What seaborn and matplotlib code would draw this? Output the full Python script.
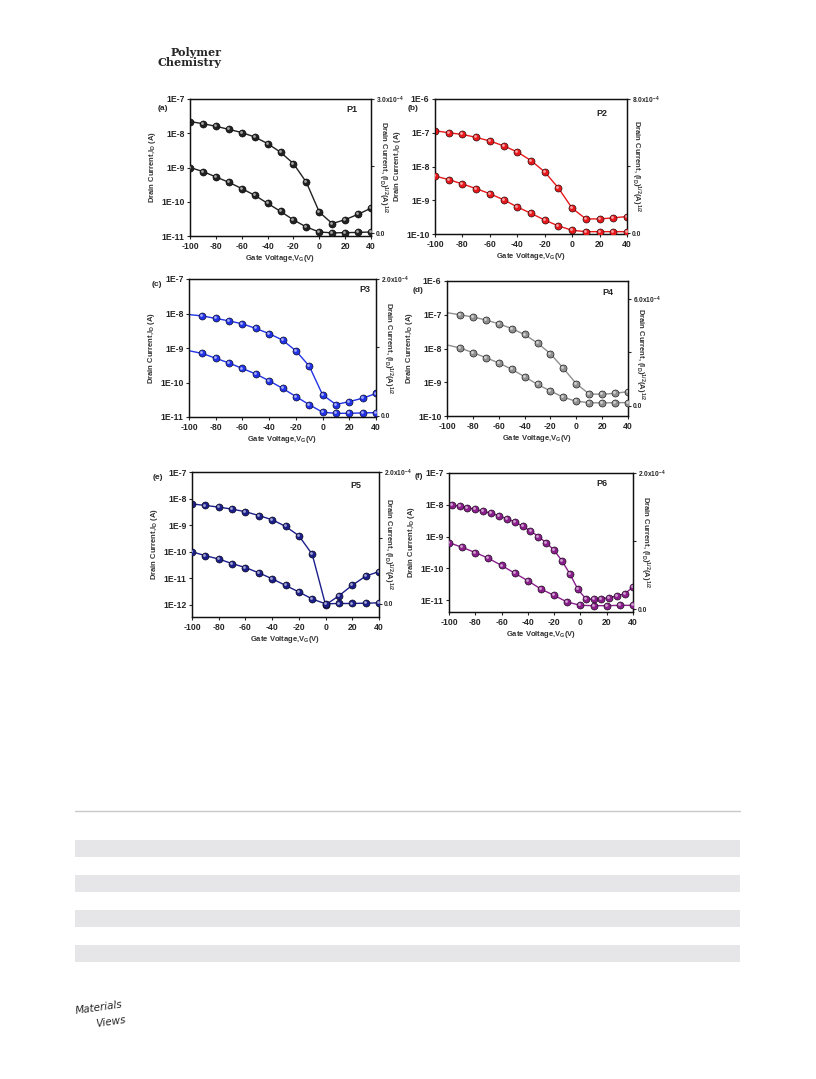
import numpy as np
import pandas as pd
import matplotlib
matplotlib.use("Agg")
import matplotlib.pyplot as plt
from matplotlib.transforms import offset_copy
import seaborn as sns

W, H = 816, 1079

vg = [-100, -90, -80, -70, -60, -50, -40, -30, -20, -10, 0, 10, 20, 30, 40]
vg_p6 = [-98, -92, -86, -80, -74, -68, -62, -56, -50, -44, -38, -32, -26, -20,
         -14, -8, -2, 4, 10, 16, 22, 28, 34, 40]

# log(ID) curves (left axis, A)
p1_id = [2.2e-8, 1.9e-8, 1.6e-8, 1.3e-8, 1.05e-8, 7.8e-9, 5e-9, 2.8e-9, 1.3e-9,
         3.7e-10, 5e-11, 2.3e-11, 3e-11, 4.3e-11, 6.5e-11]
p2_id = [1.15e-7, 1.0e-7, 8.9e-8, 7.3e-8, 5.7e-8, 4.1e-8, 2.7e-8, 1.5e-8, 6.9e-9,
         2.3e-9, 5.8e-10, 2.8e-10, 2.8e-10, 3.0e-10, 3.3e-10]
p3_id = [9.3e-9, 8.5e-9, 7.2e-9, 6.1e-9, 5.0e-9, 3.7e-9, 2.6e-9, 1.7e-9, 8.3e-10,
         3.0e-10, 4.4e-11, 2.3e-11, 2.8e-11, 3.5e-11, 4.8e-11]
p4_id = [1.15e-7, 1.0e-7, 8.6e-8, 7.0e-8, 5.4e-8, 3.9e-8, 2.6e-8, 1.45e-8, 7e-9,
         2.6e-9, 9e-10, 4.5e-10, 4.4e-10, 4.7e-10, 5.3e-10]
p5_id = [6.3e-9, 5.5e-9, 4.8e-9, 4.0e-9, 3.2e-9, 2.3e-9, 1.6e-9, 9e-10, 4e-10,
         8e-11, 1e-12, 2.2e-12, 5.5e-12, 1.2e-11, 1.8e-11]
p6_id = [1.0e-8, 9e-9, 8.1e-9, 7.2e-9, 6.2e-9, 5.4e-9, 4.5e-9, 3.6e-9, 2.9e-9,
         2.1e-9, 1.5e-9, 1.0e-9, 6.3e-10, 3.7e-10, 1.7e-10, 6.6e-11, 2.2e-11,
         1.1e-11, 1.05e-11, 1.1e-11, 1.2e-11, 1.35e-11, 1.6e-11, 2.6e-11]

# sqrt(ID) curves (right axis, units of the top tick)
p1_sq = [1.47, 1.38, 1.26, 1.14, 1.0, 0.85, 0.67, 0.49, 0.30, 0.14, 0.03, 0.01,
         0.015, 0.02, 0.03]
p2_sq = [3.41, 3.2, 2.94, 2.66, 2.36, 2.0, 1.57, 1.19, 0.79, 0.44, 0.18, 0.1,
         0.1, 0.1, 0.1]
p3_sq = [0.95, 0.91, 0.84, 0.77, 0.69, 0.61, 0.51, 0.40, 0.28, 0.16, 0.05, 0.034,
         0.034, 0.04, 0.044]
p4_sq = [3.42, 3.25, 2.99, 2.71, 2.41, 2.06, 1.64, 1.21, 0.84, 0.49, 0.26, 0.19,
         0.17, 0.19, 0.19]
p5_sq = [0.79, 0.73, 0.68, 0.61, 0.55, 0.47, 0.38, 0.28, 0.18, 0.073, 0.0, 0.005,
         0.005, 0.01, 0.015]
p6_sq = [0.976, 0.907, 0.83, 0.746, 0.64, 0.527, 0.415, 0.293, 0.2, 0.102, 0.054,
         0.049, 0.049, 0.054, 0.054]

panels = [
    dict(tag="(a)", name="P1", color="#222222", box=(190, 99, 371, 236),
         x_id=vg, id=p1_id, sq=p1_sq, ylim=(1e-11, 1e-7), rlim=(-0.06, 3.0),
         rtop="3.0x10$^{-4}$", mk_from=0, tagpos=(163, 109), ppos=(352, 109),
         rlab=(1.065, 0.5)),
    dict(tag="(b)", name="P2", color="#e8191c", box=(435, 99, 627, 234),
         x_id=vg, id=p2_id, sq=p2_sq, ylim=(1e-10, 1e-6), rlim=(-0.04, 8.0),
         rtop="8.0x10$^{-4}$", mk_from=0, tagpos=(413, 108), ppos=(602, 113),
         rlab=(1.045, 0.5)),
    dict(tag="(c)", name="P3", color="#2233e6", box=(189, 279, 376, 417),
         x_id=vg, id=p3_id, sq=p3_sq, ylim=(1e-11, 1e-7), rlim=(-0.02, 2.0),
         rtop="2.0x10$^{-4}$", mk_from=1, tagpos=(157, 284), ppos=(365, 290),
         rlab=(1.06, 0.5)),
    dict(tag="(d)", name="P4", color="#8f8f8f", box=(447, 281, 628, 416),
         x_id=vg, id=p4_id, sq=p4_sq, ylim=(1e-10, 1e-6), rlim=(-0.56, 7.0),
         rtop="6.0x10$^{-4}$", mk_from=1, tagpos=(418, 290), ppos=(608, 292),
         rlab=(1.065, 0.46)),
    dict(tag="(e)", name="P5", color="#1c1f8a", box=(192, 472, 379, 617),
         x_id=vg, id=p5_id, sq=p5_sq, ylim=(3.5e-13, 1e-7), rlim=(-0.2, 2.0),
         rtop="2.0x10$^{-4}$", mk_from=0, tagpos=(158, 478), ppos=(356, 485),
         rlab=(1.045, 0.5)),
    dict(tag="(f)", name="P6", color="#8a1f8c", box=(449, 473, 633, 612),
         x_id=vg_p6, id=p6_id, sq=p6_sq, ylim=(4.2e-12, 1e-7), rlim=(-0.044, 2.0),
         rtop="2.0x10$^{-4}$", mk_from=0, tagpos=(419, 477), ppos=(602, 483),
         rlab=(1.065, 0.5)),
]

sns.set_theme(style="ticks")
plt.rcParams['font.family'] = ['Liberation Sans', 'DejaVu Sans']
plt.rcParams['mathtext.fontset'] = 'custom'
plt.rcParams['mathtext.rm'] = 'Liberation Sans:bold'
plt.rcParams['mathtext.it'] = 'Liberation Sans:bold'
plt.rcParams['mathtext.bf'] = 'Liberation Sans:bold'

fig = plt.figure(figsize=(W / 100, H / 100), dpi=100)
fig.patch.set_facecolor("white")


def fx(x):
    return x / W


def fy(y):
    return 1 - y / H


def lighter(c, f=0.6):
    rgb = np.array(matplotlib.colors.to_rgb(c))
    return tuple(rgb + (1 - rgb) * f)


def balls(a, df, c):
    # shaded sphere markers: solid ball plus a small off-centre highlight
    sns.scatterplot(data=df, x="vg", y="val", ax=a, color=c, s=26,
                    edgecolor="#000000", linewidth=0.4, zorder=3)
    hl = offset_copy(a.transData, fig=fig, x=-0.7, y=0.7, units="points")
    sns.scatterplot(data=df, x="vg", y="val", ax=a, color=lighter(c), s=4,
                    linewidth=0, zorder=4, transform=hl)


for p in panels:
    x0, y0, x1, y1 = p["box"]
    ax = fig.add_axes([fx(x0), fy(y1), (x1 - x0) / W, (y1 - y0) / H])
    ax2 = ax.twinx()
    c = p["color"]
    k = p["mk_from"]

    d1 = pd.DataFrame({"vg": p["x_id"], "val": p["id"]})
    d2 = pd.DataFrame({"vg": vg, "val": p["sq"]})

    sns.lineplot(data=d1, x="vg", y="val", ax=ax, color=c, lw=1.0)
    sns.lineplot(data=d2, x="vg", y="val", ax=ax2, color=c, lw=1.0)
    balls(ax, d1.iloc[k:], c)
    balls(ax2, d2.iloc[k:], c)

    ax.set_yscale("log")
    ax.set_ylim(*p["ylim"])
    ax.set_xlim(-100, 40)
    ax.set_xticks(range(-100, 41, 20))
    ax.set_xticklabels([str(v) for v in range(-100, 41, 20)], fontweight="bold")
    lo = int(np.ceil(np.log10(p["ylim"][0]) - 1e-9))
    hi = int(round(np.log10(p["ylim"][1])))
    dec = list(range(lo, hi + 1))
    ax.set_yticks([10.0 ** e for e in dec])
    ax.set_yticklabels(["1E%d" % e for e in dec], fontweight="bold")
    ax.minorticks_off()
    ax.tick_params(axis="both", labelsize=6.2, length=2.5, width=0.8, pad=1.5)

    top = float(p["rtop"].split("x")[0])
    ax2.set_ylim(*p["rlim"])
    ax2.set_yticks([0, top / 2, top])
    ax2.set_yticklabels(["0.0", "", p["rtop"]], fontweight="bold")
    ax2.tick_params(axis="y", labelsize=4.8, length=2.5, width=0.8, pad=1)
    ax2.minorticks_off()

    for a in (ax, ax2):
        for s in a.spines.values():
            s.set_linewidth(0.9)
            s.set_color("#111111")

    ax.set_xlabel("Gate Voltage,V$_G$(V)", fontsize=5.5, fontweight="bold",
                  labelpad=2, color="#333333")
    ax.set_ylabel("Drain Current,I$_D$ (A)", fontsize=5.5, fontweight="bold",
                  labelpad=2, color="#333333")
    ax2.set_ylabel("Drain Current, (I$_D$)$^{1/2}$(A)$^{1/2}$", fontsize=5.5,
                   fontweight="bold", rotation=270, color="#333333",
                   va="center", ha="center")
    ax2.yaxis.set_label_coords(*p["rlab"])

    fig.text(fx(p["tagpos"][0]), fy(p["tagpos"][1]), p["tag"], fontsize=6,
             fontweight="bold", ha="center", va="center")
    fig.text(fx(p["ppos"][0]), fy(p["ppos"][1]), p["name"], fontsize=6.5,
             fontweight="bold", ha="center", va="center")

# journal header
fig.text(fx(222), fy(52), "Polymer", fontsize=8, fontweight="bold",
         family="DejaVu Serif", ha="right", va="center")
fig.text(fx(222), fy(63), "Chemistry", fontsize=8, fontweight="bold",
         family="DejaVu Serif", ha="right", va="center")

# table rule and shaded rows below the figure
fig.add_artist(plt.Line2D([fx(75), fx(740)], [fy(811), fy(811)], color="#c8c8c8",
                          lw=1.0))
for yb in (840, 875, 910, 945):
    fig.add_artist(plt.Rectangle((fx(75), fy(yb + 17)), (740 - 75) / W, 17 / H,
                                 color="#e6e6e8", lw=0))

# publisher logo
fig.text(fx(75), fy(1008), "Materials", fontsize=7.5, style="italic",
         family="DejaVu Sans", ha="left", va="center", rotation=8)
fig.text(fx(95), fy(1022), "Views", fontsize=7.5, style="italic",
         family="DejaVu Sans", ha="left", va="center", rotation=8)

fig.savefig("out.png", dpi=100)
